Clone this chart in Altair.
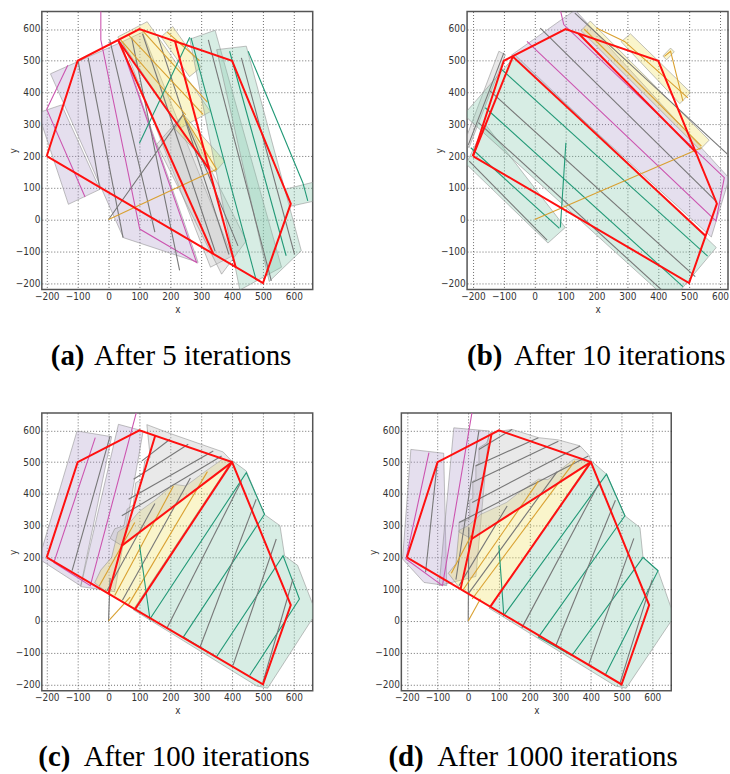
import altair as alt
import pandas as pd

TICKS = [-200, -100, 0, 100, 200, 300, 400, 500, 600]
Y_DOMAIN = [-220, 655]

FILL_CATS = ["purple", "gray", "yellow", "green"]
FILL_COLORS = ["#b19dcb", "#bcbcbc", "#f0e060", "#86c9ae"]
LINE_CATS = ["magenta", "gray", "orange", "green"]
LINE_COLORS = ["#cc55b0", "#777777", "#d9a030", "#229977"]

OUTER = [(-200, 200), (-100, 500), (100, 600), (400, 500), (590, 50), (500, -200), (-200, 200)]

# ---------------- panel (a) ----------------
A_FILLS = [
    ("purple", [(-188, 459), (40, 558), (290, -135), (48, -57)]),
    ("purple", [(-228, 336), (-152, 361), (-28, 95), (-130, 48)]),
    ("gray", [(45, 560), (110, 590), (400, -115), (330, -150)]),
    ("gray", [(156, 237), (242, 331), (446, -67), (366, -172)]),
    ("yellow", [(30, 575), (125, 623), (330, 340), (232, 288)]),
    ("yellow", [(170, 575), (208, 608), (300, 480), (262, 450)]),
    ("yellow", [(215, 285), (242, 331), (376, 184), (345, 150)]),
    ("green", [(263, 568), (345, 596), (560, -150), (425, -222)]),
    ("green", [(350, 535), (446, 546), (624, -98), (520, -195)]),
    ("green", [(570, 95), (665, 118), (665, 58), (590, 42)]),
]
A_LINES = [
    ("magenta", [(-132, 486), (-200, 347), (-76, 71)]),
    ("gray", [(-98, 498), (-28, 95)]),
    ("gray", [(-66, 509), (47, -57)]),
    ("magenta", [(-25, 660), (-25, 566), (101, -30), (285, -135), (40, 552)]),
    ("gray", [(4, 566), (150, -40)]),
    ("gray", [(75, 572), (230, -160)]),
    ("gray", [(110, 585), (345, -100)]),
    ("gray", [(160, 575), (390, -110)]),
    ("gray", [(0, 0), (242, 331), (419, -83)]),
    ("orange", [(40, 565), (250, 330)]),
    ("orange", [(65, 581), (306, 331)]),
    ("orange", [(110, 595), (320, 370)]),
    ("orange", [(190, 590), (295, 500)]),
    ("orange", [(240, 331), (350, 158)]),
    ("orange", [(0, 0), (350, 158)]),
    ("green", [(100, 240), (263, 574)]),
    ("green", [(267, 572), (478, -191)]),
    ("gray", [(323, 566), (527, -193)]),
    ("green", [(392, 530), (575, -114)]),
    ("gray", [(430, 509), (602, -109)]),
    ("green", [(452, 530), (629, 116), (645, 59)]),
]
A_RED = [OUTER, [(32, 563), (339, -108)], [(32, 563), (326, 158), (412, -151)], [(215, 562), (326, 158)]]

# ---------------- panel (b) ----------------
B_FILLS = [
    ("gray", [(-116, 530), (-95, 519), (-213, 226), (-225, 250)]),
    ("green", [(-222, 175), (43, -74), (99, -25), (-160, 300)]),
    ("green", [(-62, 517), (588, -88), (440, -260), (-230, 330)]),
    ("purple", [(-75, 518), (131, 660), (630, 130), (572, -55)]),
    ("yellow", [(150, 595), (180, 625), (565, 250), (535, 220)]),
    ("yellow", [(280, 560), (310, 585), (505, 400), (470, 365)]),
    ("yellow", [(415, 515), (440, 540), (452, 528), (427, 503)]),
]
B_LINES = [
    ("green", [(-110, 475), (560, -115)]),
    ("gray", [(-145, 405), (520, -180)]),
    ("green", [(-160, 352), (480, -211)]),
    ("gray", [(-182, 305), (415, -225)]),
    ("green", [(-207, 226), (80, -28)]),
    ("gray", [(-212, 184), (40, -65)]),
    ("gray", [(-100, 525), (-215, 235)]),
    ("gray", [(18, 603), (590, 55)]),
    ("gray", [(130, 650), (625, 205)]),
    ("magenta", [(83, 660), (94, 614), (614, 132), (587, -4), (-25, 561)]),
    ("orange", [(160, 600), (540, 231)]),
    ("orange", [(200, 603), (291, 561), (496, 383)]),
    ("orange", [(420, 514), (440, 530), (480, 373)]),
    ("orange", [(0, 0), (540, 226)]),
    ("green", [(101, 242), (83, -25)]),
]
B_RED = [OUTER, [(-200, 200), (-71, 513)], [(-71, 513), (553, -51)], [(142, 586), (524, 210)]]

# ---------------- panel (c) ----------------
C_FILLS = [
    ("purple", [(-225, 195), (-102, 598), (10, 580), (-90, 110)]),
    ("purple", [(-90, 108), (32, 619), (112, 598), (20, 92)]),
    ("yellow", [(-45, 120), (-25, 160), (10, 200), (30, 280), (60, 300), (100, 345), (150, 380),
                (210, 430), (250, 425), (315, 472), (370, 510), (400, 500), (86, 37), (0, 86)]),
    ("gray", [(124, 618), (200, 590), (371, 532), (400, 502), (43, 237), (5, 260), (20, 290),
              (50, 300), (60, 352), (80, 365), (88, 435), (108, 446), (118, 505), (135, 515)]),
    ("green", [(400, 505), (446, 472), (505, 335), (555, 300), (570, 205), (612, 175), (662, 50),
               (662, 10), (515, -212), (480, -205), (80, 35)]),
]
C_LINES = [
    ("magenta", [(-43, 577), (-177, 184), (-59, 111), (91, 660)]),
    ("gray", [(-118, 158), (5, 582)]),
    ("gray", [(108, 504), (199, 572)]),
    ("gray", [(81, 446), (258, 556)]),
    ("gray", [(65, 383), (339, 535)]),
    ("gray", [(43, 331), (366, 519)]),
    ("gray", [(0, 0), (5, 135)]),
    ("orange", [(-30, 110), (85, 310)]),
    ("gray", [(-5, 95), (150, 370)]),
    ("orange", [(20, 80), (210, 425)]),
    ("gray", [(45, 65), (265, 450)]),
    ("orange", [(65, 52), (320, 470)]),
    ("orange", [(0, 0), (70, 75)]),
    ("green", [(100, 240), (134, 6), (446, 467), (505, 336), (242, -51), (349, -114),
               (565, 205), (618, 69), (457, -172)]),
    ("gray", [(188, -25), (430, 440)]),
    ("gray", [(296, -83), (478, 383)]),
    ("gray", [(403, -140), (543, 258)]),
    ("gray", [(500, -193), (597, 132)]),
]
C_RED = [OUTER, [(151, 583), (43, 237), (0, 86)], [(43, 237), (400, 500)], [(400, 500), (86, 37)]]

# ---------------- panel (d) ----------------
D_FILLS = [
    ("purple", [(-214, 195), (-187, 540), (-80, 528), (-70, 111), (-144, 121)]),
    ("purple", [(-95, 111), (-47, 608), (68, 598), (25, 140)]),
    ("yellow", [(-65, 150), (-40, 180), (-30, 285), (0, 300), (40, 335), (125, 373), (160, 400),
                (229, 446), (260, 445), (345, 510), (400, 500), (72, 45), (-25, 100)]),
    ("gray", [(143, 603), (229, 577), (294, 570), (365, 551), (395, 520), (400, 502), (11, 258),
              (-30, 280), (-30, 310), (5, 320), (5, 380), (15, 385), (15, 440), (25, 445),
              (25, 490), (35, 495), (35, 545), (60, 560), (72, 593)]),
    ("green", [(400, 505), (451, 462), (511, 331), (560, 294), (570, 200), (619, 158), (662, 40),
               (662, 0), (515, -212), (480, -205), (68, 40)]),
]
D_LINES = [
    ("magenta", [(13, 660), (-84, 111), (-203, 195), (-128, 530)]),
    ("gray", [(-101, 498), (-139, 153)]),
    ("gray", [(-40, 130), (35, 600)]),
    ("gray", [(35, 540), (143, 603)]),
    ("gray", [(24, 488), (229, 577)]),
    ("gray", [(13, 436), (294, 566)]),
    ("gray", [(13, 373), (365, 551)]),
    ("gray", [(-30, 310), (392, 519)]),
    ("gray", [(0, 0), (2, 294)]),
    ("orange", [(-55, 150), (10, 270)]),
    ("gray", [(-30, 111), (127, 362)]),
    ("orange", [(-19, 95), (229, 440)]),
    ("gray", [(0, 85), (290, 470)]),
    ("orange", [(13, 69), (348, 504)]),
    ("orange", [(0, 0), (40, 70)]),
    ("green", [(100, 237), (116, 17), (451, 462), (511, 331), (229, -51), (338, -109),
               (570, 200), (619, 158), (446, -172)]),
    ("gray", [(175, -22), (430, 440)]),
    ("gray", [(285, -80), (480, 380)]),
    ("gray", [(392, -140), (540, 260)]),
    ("gray", [(495, -195), (600, 130)]),
]
D_RED = [OUTER, [(76, 588), (11, 258), (-25, 100)], [(11, 258), (400, 500)], [(400, 500), (72, 45)]]

CAPTION_TAGS = ["(a)", "(b)", "(c)", "(d)"]
CAPTION_TEXTS = ["After 5 iterations", "After 10 iterations", "After 100 iterations", "After 1000 iterations"]

SANS = "Liberation Sans Narrow, DejaVu Sans Condensed, Arial Narrow, sans-serif"
SERIF = "Liberation Serif, Times New Roman, serif"


def shapes_df(shapes):
    rows = []
    for k, (cat, pts) in enumerate(shapes):
        for i, (x, y) in enumerate(pts):
            rows.append({"id": k, "i": i, "cat": cat, "x": x, "y": y})
    return pd.DataFrame(rows)


def red_df(lines):
    rows = []
    for k, pts in enumerate(lines):
        for i, (x, y) in enumerate(pts):
            rows.append({"id": k, "i": i, "x": x, "y": y})
    return pd.DataFrame(rows)


def panel(fills, lines, reds, xdom, width, tag, text, tag_x, text_x):
    xs = alt.Scale(domain=xdom, nice=False, zero=False)
    ys = alt.Scale(domain=Y_DOMAIN, nice=False, zero=False)
    xax = alt.Axis(values=TICKS, title="x", format="d")
    yax = alt.Axis(values=TICKS, title="y", format="d", titleX=-23)
    X = alt.X("x:Q", scale=xs, axis=xax)
    Y = alt.Y("y:Q", scale=ys, axis=yax)
    f = alt.Chart(shapes_df(fills)).mark_line(
        interpolate="linear-closed", fillOpacity=0.33, strokeWidth=1, strokeOpacity=0.55, clip=True
    ).encode(
        x=X, y=Y,
        fill=alt.Fill("cat:N", scale=alt.Scale(domain=FILL_CATS, range=FILL_COLORS), legend=None),
        stroke=alt.value("#8c8c8c"),
        detail="id:N", order="i:Q",
    )
    h = alt.Chart(shapes_df(lines)).mark_line(strokeWidth=1.1, clip=True).encode(
        x=X, y=Y,
        color=alt.Color("cat:N", scale=alt.Scale(domain=LINE_CATS, range=LINE_COLORS), legend=None),
        detail="id:N", order="i:Q",
    )
    r = alt.Chart(red_df(reds)).mark_line(color="#ff1010", strokeWidth=2, clip=True).encode(
        x=X, y=Y, detail="id:N", order="i:Q"
    )
    t1 = alt.Chart(pd.DataFrame({"t": [tag]})).mark_text(
        align="left", baseline="alphabetic", font=SERIF, fontSize=29, fontWeight="bold", color="black"
    ).encode(x=alt.value(tag_x), y=alt.value(355), text="t:N")
    t2 = alt.Chart(pd.DataFrame({"t": [text]})).mark_text(
        align="left", baseline="alphabetic", font=SERIF, fontSize=29, color="black"
    ).encode(x=alt.value(text_x), y=alt.value(355), text="t:N")
    return alt.layer(f, h, r, t1, t2).properties(width=width, height=279)


pa = panel(A_FILLS, A_LINES, A_RED, [-216, 661], 272, CAPTION_TAGS[0], CAPTION_TEXTS[0], 9, 52.5)
pb = panel(B_FILLS, B_LINES, B_RED, [-219, 626], 262, CAPTION_TAGS[1], CAPTION_TEXTS[1], 0, 47)
pc = panel(C_FILLS, C_LINES, C_RED, [-216, 661], 272, CAPTION_TAGS[2], CAPTION_TEXTS[2], -3.5, 42)
pd_ = panel(D_FILLS, D_LINES, D_RED, [-218, 662], 271, CAPTION_TAGS[3], CAPTION_TEXTS[3], -13, 36)

row1 = alt.hconcat(pa, pb, spacing=155, bounds="flush")
row2 = alt.hconcat(pc, pd_, spacing=89, bounds="flush")

chart = alt.vconcat(row1, row2, spacing=40).properties(
    padding={"left": 8, "top": 9, "right": 0, "bottom": 0},
    background="white",
).configure_view(
    stroke="#555555", strokeWidth=1.5
).configure_axis(
    labelFont=SANS, labelFontSize=10, labelColor="#333333",
    titleFont=SANS, titleFontSize=10, titleFontWeight="normal", titleColor="#333333",
    grid=True, gridColor="#333333", gridDash=[1, 2], gridWidth=0.8, gridOpacity=0.9,
    domain=False, ticks=False, labelPadding=2, titlePadding=3,
)

chart.save("out.html", embed_options={"renderer": "svg", "actions": False})
